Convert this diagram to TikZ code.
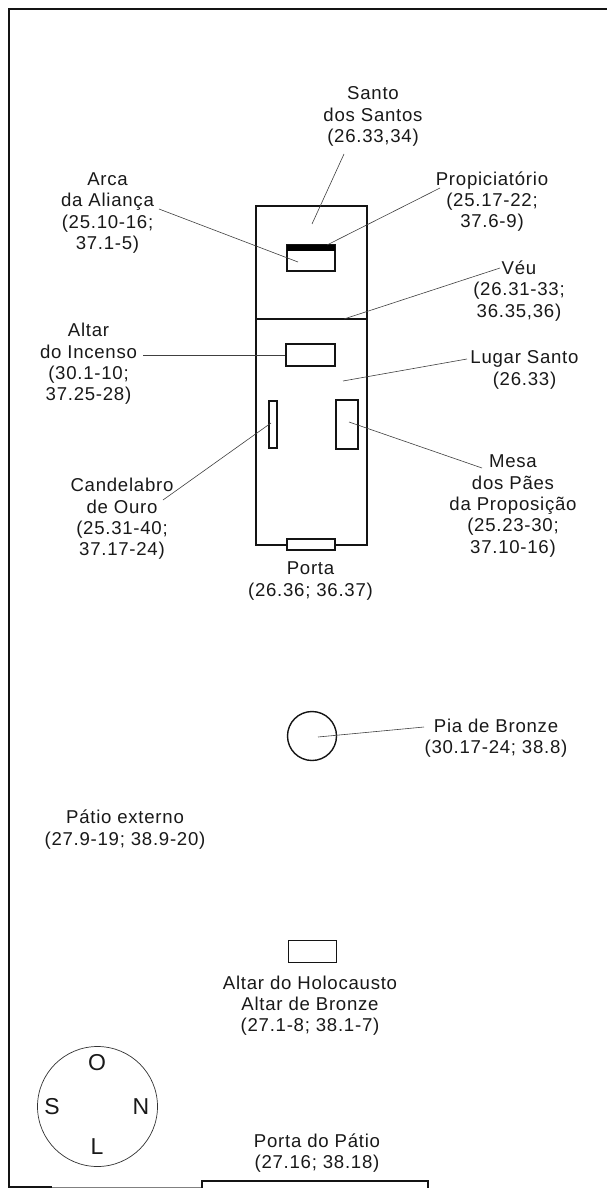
\documentclass[tikz,border=0pt]{standalone}
\usepackage{fontspec}
\usetikzlibrary{shapes.geometric}
\setmainfont[LetterSpace=4]{Liberation Sans}
\tikzset{
  wall/.style={draw=black!92,line width=1.5pt,fill=none},
  faint/.style={draw=black!50,line width=1pt},
  lead/.style={draw=black!75,line width=0.6pt},
  lbl/.style={align=center,inner sep=0pt,font=\fontsize{18.6}{21.3}\selectfont,text=black!90},
  cmp/.style={inner sep=0pt,font=\fontsize{23}{26}\selectfont,text=black!90},
  obj/.style={draw=black!92,line width=1.4pt,inner sep=0pt}
}
\begin{document}
\begin{tikzpicture}[x=1pt,y=-1pt]
\useasboundingbox[fill=white] (0,0) rectangle (607,1188);
% court
\draw[wall] (607,9) -- (9,9) -- (9,1187) -- (52,1187);
\draw[faint] (52,1187) -- (202,1187);
\draw[wall] (202,1188) -- (202,1181) -- (428,1181) -- (428,1188);
% rooms
\draw[wall] (256,206) rectangle (367,319);
\draw[wall] (256,319) -- (256,545) -- (287,545) (335,545) -- (367,545) -- (367,319);
% furniture
\node[obj,minimum width=48pt,minimum height=26pt] (arca) at (311,258) {};
\fill[black] (287,245) rectangle (335,251);
\node[obj,minimum width=49pt,minimum height=22pt] (incenso) at (310.5,355) {};
\node[obj,minimum width=8pt,minimum height=47pt] (cand) at (273,424.5) {};
\node[obj,minimum width=22pt,minimum height=49pt] (mesa) at (347,424.5) {};
\node[obj,fill=white,minimum width=48pt,minimum height=11pt] (porta) at (311,544.5) {};
\node[draw=black!92,line width=1.4pt,circle,minimum size=49pt,inner sep=0pt] (pia) at (312,736) {};
\node[obj,minimum width=48pt,minimum height=22pt] (altar) at (312.5,951.5) {};
% compass
\node[draw=black!80,line width=0.7pt,circle,minimum size=120pt,inner sep=0pt] (rosa) at (97.5,1106.5) {};
\node[cmp] (o) at (97,1063) {O};
\node[cmp] (s) at (52,1107) {S};
\node[cmp] (n) at (141,1107) {N};
\node[cmp] (l) at (97,1147) {L};
% labels
\node[lbl] (tsanto) at (373,116.5) {Santo\\dos Santos\\(26.33,34)};
\node[lbl] (tarca) at (107.5,213) {Arca\\da Aliança\\(25.10-16;\\37.1-5)};
\node[lbl] (tprop) at (492,201.5) {Propiciatório\\(25.17-22;\\37.6-9)};
\node[lbl] (tveu) at (519,291) {Véu\\(26.31-33;\\36.35,36)};
\node[lbl] (tinc) at (88.5,364) {Altar\\do Incenso\\(30.1-10;\\37.25-28)};
\node[lbl] (tlugar) at (524.5,370) {Lugar Santo\\(26.33)};
\node[lbl] (tcand) at (122,519) {Candelabro\\de Ouro\\(25.31-40;\\37.17-24)};
\node[lbl] (tmesa) at (513,506) {Mesa\\dos Pães\\da Proposição\\(25.23-30;\\37.10-16)};
\node[lbl] (tporta) at (310.5,581) {Porta\\(26.36; 36.37)};
\node[lbl] (tpia) at (496,738) {Pia de Bronze\\(30.17-24; 38.8)};
\node[lbl] (tpatio) at (125,829.5) {Pátio externo\\(27.9-19; 38.9-20)};
\node[lbl] (taltarb) at (310,1005.5) {Altar do Holocausto\\Altar de Bronze\\(27.1-8; 38.1-7)};
\node[lbl] (tpp) at (317,1153) {Porta do Pátio\\(27.16; 38.18)};
% connector ends
\coordinate (sanstart) at (344,154);
\coordinate (esanto) at (312,224);
\coordinate (arcastart) at (159,209);
\coordinate (earca) at (298,262);
\coordinate (propstart) at (440,188);
\coordinate (eprop) at (327,245);
\coordinate (veustart) at (500,268);
\coordinate (eveu) at (344,319);
\coordinate (incstart) at (143,355);
\coordinate (lugstart) at (467,359);
\coordinate (elug) at (343,381);
\coordinate (cstart) at (163,500);
\coordinate (ecand) at (271,423);
\coordinate (mstart) at (482,468);
\coordinate (emesa) at (349,422);
\coordinate (piastart) at (424,727);
\coordinate (epia) at (318,737);
% connectors
\draw[lead] (sanstart) -- (esanto);
\draw[lead] (arcastart) -- (earca);
\draw[lead] (propstart) -- (eprop);
\draw[lead] (veustart) -- (eveu);
\draw[lead] (incstart) -- (incenso.west);
\draw[lead] (lugstart) -- (elug);
\draw[lead] (cstart) -- (ecand);
\draw[lead] (mstart) -- (emesa);
\draw[lead] (piastart) -- (epia);
\end{tikzpicture}
\end{document}
